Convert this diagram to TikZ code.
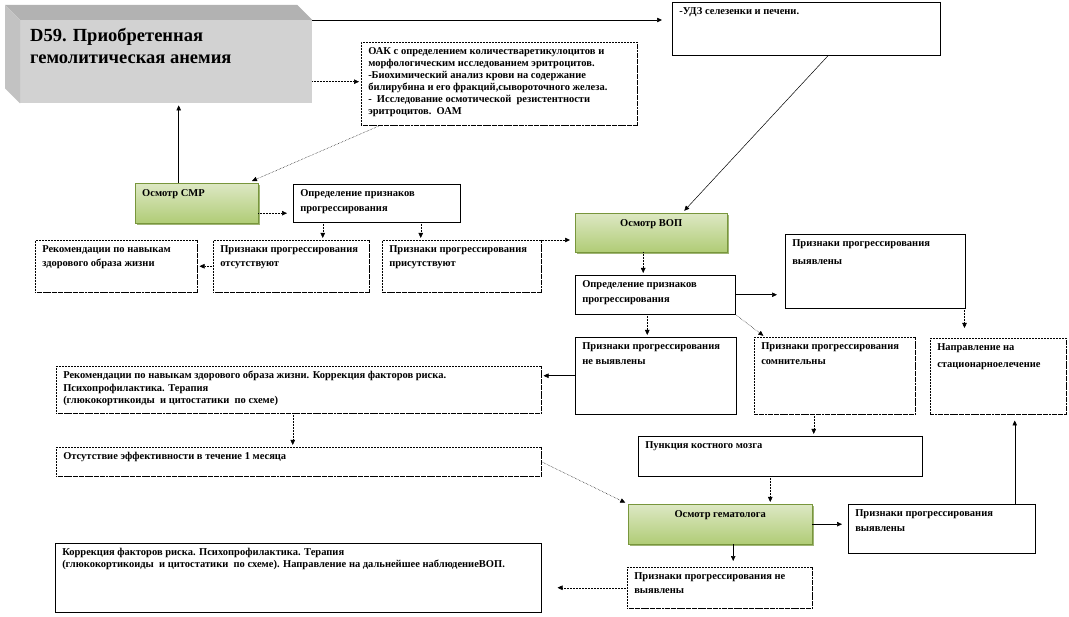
\documentclass[tikz,border=0pt]{standalone}
\usepackage{fontspec}
\setmainfont{Liberation Serif}
\usetikzlibrary{arrows.meta,shadows}
\definecolor{greentop}{RGB}{221,232,196}
\definecolor{greenbot}{RGB}{176,204,118}
\definecolor{greenedge}{RGB}{120,150,60}
\newcommand{\boxtext}[3]{\parbox[t][#2][t]{#1}{\raggedright #3}}
\begin{document}
\begin{tikzpicture}[x=1pt, y=-1pt,
    tbox/.style={draw, line width=0.5pt, fill=white, anchor=north west, inner xsep=7pt, inner ysep=5pt,
      font=\fontsize{10.5}{#1}\selectfont\bfseries,
      append after command={(\tikzlastnode.north east) edge[densely dotted, line width=0.9pt] (\tikzlastnode.south east)
        (\tikzlastnode.south east) edge[densely dotted, line width=0.9pt] (\tikzlastnode.south west)}},
    tbox/.default=14,
    gbox/.style={anchor=north west, inner xsep=7pt, inner ysep=6pt, draw=greenedge, line width=0.4pt,
      top color=greentop, bottom color=greenbot,
      drop shadow={shadow xshift=1.5pt, shadow yshift=-1.5pt, fill=greenedge, opacity=0.7},
      font=\fontsize{10.5}{14}\selectfont\bfseries},
    headbox/.style={anchor=north west, inner xsep=10pt, inner ysep=8pt, fill=gray!35,
      font=\fontsize{18.5}{22}\selectfont\bfseries},
    arr/.style={-{Triangle[length=5pt, width=4.5pt]}, line width=0.5pt, shorten >=2pt},
    darr/.style={arr, densely dotted}]
  \useasboundingbox (0,0) rectangle (1069,617);

  \node[headbox] (head) at (20,20) {\boxtext{272pt}{67pt}{D59. Приобретенная\\ гемолитическая анемия}};
  \fill[gray!60] (head.north west) -- ++(-15,-15) -- ([shift={(-15,-15)}]head.north east) -- (head.north east) -- cycle;
  \fill[gray!48] (head.north west) -- ++(-15,-15) -- ([shift={(-15,-15)}]head.south west) -- (head.south west) -- cycle;

  \node[tbox] (udz) at (672,2) {\boxtext{254pt}{43pt}{-УДЗ селезенки и печени.}};
  \node[tbox=12, densely dotted] (oak) at (361,42) {\boxtext{262pt}{73pt}{ОАК с определением количестваретикулоцитов и\\ морфологическим исследованием эритроцитов.\\ -Биохимический анализ крови на содержание\\ билирубина и его фракций,сывороточного железа.\\ -~~Исследование осмотической~ резистентности\\ эритроцитов.~~ОАМ}};
  \node[gbox] (smr) at (135,183) {\boxtext{109pt}{28pt}{Осмотр СМР}};
  \node[tbox=15] (def1) at (293,184) {\boxtext{153pt}{28pt}{Определение признаков\\ прогрессирования}};
  \node[tbox, densely dotted] (rec1) at (35,240) {\boxtext{148pt}{42pt}{Рекомендации по навыкам\\ здорового образа жизни}};
  \node[tbox, densely dotted] (ots) at (213,240) {\boxtext{142pt}{42pt}{Признаки прогрессирования\\ отсутствуют}};
  \node[tbox, densely dotted] (pris) at (382,240) {\boxtext{145pt}{42pt}{Признаки прогрессирования\\ присутствуют}};
  \node[gbox] (vop) at (575,213) {\boxtext{138pt}{27pt}{\centering Осмотр ВОП}};
  \node[tbox=15] (def2) at (575,275) {\boxtext{146pt}{29pt}{Определение признаков\\ прогрессирования}};
  \node[tbox=18] (vyy1) at (785,234) {\boxtext{166pt}{64pt}{Признаки прогрессирования\\ выявлены}};
  \node[tbox=15] (nevy1) at (575,337) {\boxtext{147pt}{67pt}{Признаки прогрессирования\\ не выявлены}};
  \node[tbox=15, densely dotted] (som) at (754,337) {\boxtext{147pt}{67pt}{Признаки прогрессирования\\ сомнительны}};
  \node[tbox=17, densely dotted] (napr) at (930,338) {\boxtext{122pt}{66pt}{Направление на\\ стационарноелечение}};
  \node[tbox=12.5, densely dotted] (rec2) at (56,366) {\boxtext{471pt}{37pt}{Рекомендации по навыкам здорового образа жизни. Коррекция факторов риска.\\ Психопрофилактика. Терапия\\ (глюкокортикоиды~ и цитостатики~ по схеме)}};
  \node[tbox, densely dotted] (otsu) at (56,447) {\boxtext{471pt}{19pt}{Отсутствие эффективности в течение 1 месяца}};
  \node[tbox] (punk) at (638,436) {\boxtext{270pt}{30pt}{Пункция костного мозга}};
  \node[gbox] (gem) at (628,504) {\boxtext{170pt}{28pt}{\centering Осмотр гематолога}};
  \node[tbox=15] (vyy2) at (848,504) {\boxtext{173pt}{39pt}{Признаки прогрессирования\\ выявлены}};
  \node[tbox, densely dotted] (nevy2) at (627,567) {\boxtext{171pt}{31pt}{Признаки прогрессирования не\\ выявлены}};
  \node[tbox=12] (korr) at (55,543) {\boxtext{472pt}{59pt}{Коррекция факторов риска. Психопрофилактика. Терапия\\ (глюкокортикоиды~ и цитостатики~ по схеме). Направление на дальнейшее наблюдениеВОП.}};

  \draw[arr, shorten >=10pt] (head.north east) -- (head.north east -| udz.west);
  \draw[darr] ([yshift=-20pt]head.east) -- ([yshift=-20pt]head.east -| oak.west);
  \draw[darr, shorten >=5pt] ([xshift=19pt]oak.south west) -- ([xshift=-11pt]smr.north east);
  \draw[arr] ([xshift=-18pt]smr.north) -- ([xshift=-18pt]smr.north |- head.south);
  \draw[arr, shorten >=3pt] ([xshift=22pt]udz.south) -- ([xshift=31pt]vop.north);
  \draw[darr, shorten >=6pt] ([yshift=-10pt]smr.east) -- ([yshift=-10pt]smr.east -| def1.west);
  \draw[darr] ([xshift=-54pt]def1.south) -- ([xshift=-54pt]def1.south |- ots.north);
  \draw[darr] ([xshift=44pt]def1.south) -- ([xshift=44pt]def1.south |- pris.north);
  \draw[darr] (ots.west) -- (ots.west -| rec1.east);
  \draw[darr, shorten >=5pt] (pris.north east) -- (pris.north east -| vop.west);
  \draw[darr] ([xshift=-8pt]vop.south) -- ([xshift=-8pt]vop.south |- def2.north);
  \draw[arr, shorten >=8pt] (def2.east) -- (def2.east -| vyy1.west);
  \draw[darr, shorten >=10pt] ([xshift=-1pt]vyy1.south east) -- ([xshift=-1pt]vyy1.south east |- napr.north);
  \draw[darr] ([xshift=-8pt]def2.south) -- ([xshift=-8pt]def2.south |- nevy1.north);
  \draw[darr] (def2.south east) -- ([xshift=11pt]som.north west);
  \draw[darr] ([xshift=-21pt]som.south) -- ([xshift=-21pt]som.south |- punk.north);
  \draw[darr] ([xshift=-10pt]punk.south) -- ([xshift=-10pt]punk.south |- gem.north);
  \draw[arr, shorten >=6pt] (gem.east) -- (gem.east -| vyy2.west);
  \draw[arr, shorten >=6pt] ([xshift=73pt]vyy2.north) -- ([xshift=73pt]vyy2.north |- napr.south);
  \draw[arr, shorten >=6pt] ([xshift=13pt]gem.south) -- ([xshift=13pt]gem.south |- nevy2.north);
  \draw[darr, shorten >=16pt] (nevy2.west) -- (nevy2.west -| korr.east);
  \draw[arr] (nevy1.west) -- (nevy1.west -| rec2.east);
  \draw[darr] ([xshift=-6pt]rec2.south) -- ([xshift=-6pt]rec2.south |- otsu.north);
  \draw[darr, shorten >=3pt] (otsu.east) -- (gem.north west);
\end{tikzpicture}
\end{document}
